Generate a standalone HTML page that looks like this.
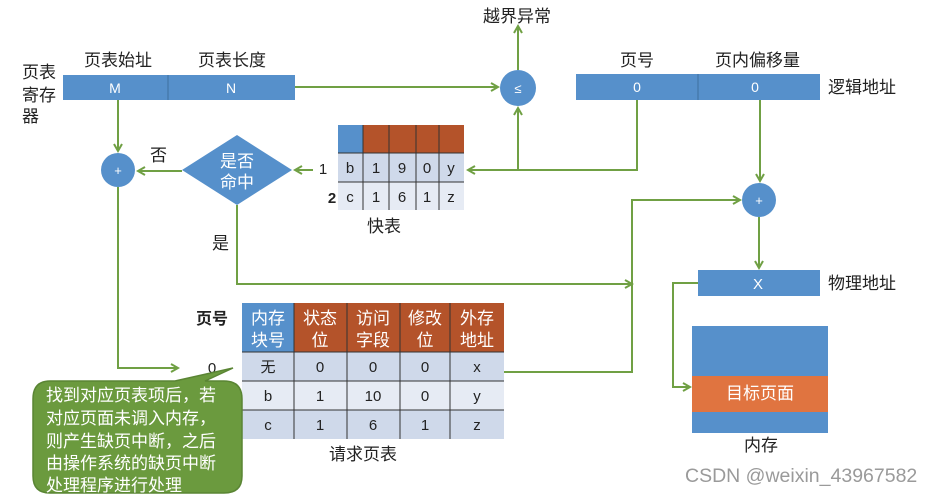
<!DOCTYPE html>
<html><head><meta charset="utf-8"><style>
html,body{margin:0;padding:0;background:#fff;}
svg{display:block;font-family:"Liberation Sans","Noto Sans CJK SC",sans-serif;}
</style></head><body>
<svg width="931" height="495" viewBox="0 0 931 495" xmlns="http://www.w3.org/2000/svg">
<defs>
<marker id="a" markerWidth="10" markerHeight="10" refX="8" refY="5" orient="auto" markerUnits="userSpaceOnUse">
<path d="M1,1 L8,5 L1,9" fill="none" stroke="#70a044" stroke-width="2"/>
</marker>
</defs>
<g fill="#222" font-size="17">
<text x="22" y="78">页表</text><text x="22" y="101">寄存</text><text x="22" y="122">器</text>
<text x="84" y="66">页表始址</text><text x="198" y="66">页表长度</text>
<text x="483" y="22">越界异常</text>
<text x="620" y="66">页号</text><text x="715" y="66">页内偏移量</text>
<text x="828" y="93">逻辑地址</text>
<text x="828" y="289">物理地址</text>
<text x="150" y="161">否</text>
<text x="212" y="249">是</text>
<text x="367" y="232">快表</text>
<text x="329" y="460">请求页表</text>
<text x="744" y="451">内存</text>
</g>
<g font-size="15" fill="#222">
<text x="323" y="174" text-anchor="middle">1</text>
<text x="332" y="203" text-anchor="middle" font-weight="bold">2</text>
<text x="212" y="324" text-anchor="middle" font-weight="bold" font-size="16">页号</text>
<text x="212" y="373" text-anchor="middle">0</text>
</g>
<rect x="63" y="75" width="232" height="25" fill="#5690cb"/>
<line x1="168" y1="75" x2="168" y2="100" stroke="#3f6f9f"/>
<g fill="#fff" font-size="14" text-anchor="middle"><text x="115" y="93">M</text><text x="231" y="93">N</text></g>
<rect x="576" y="74" width="244" height="26" fill="#5690cb"/>
<line x1="698" y1="74" x2="698" y2="100" stroke="#3f6f9f"/>
<g fill="#fff" font-size="14" text-anchor="middle"><text x="637" y="92">0</text><text x="755" y="92">0</text></g>
<rect x="698" y="270" width="122" height="26" fill="#5690cb"/>
<text x="758" y="289" fill="#fff" font-size="15" text-anchor="middle">X</text>
<rect x="692" y="326" width="136" height="107" fill="#5690cb"/>
<rect x="692" y="376" width="136" height="36" fill="#e07440"/>
<text x="760" y="399" fill="#fff" font-size="17" text-anchor="middle">目标页面</text>
<circle cx="518" cy="88" r="18" fill="#5690cb"/><text x="518" y="93" fill="#fff" font-size="13" text-anchor="middle">≤</text>
<circle cx="118" cy="170" r="17" fill="#5690cb"/><text x="118" y="175" fill="#fff" font-size="13" text-anchor="middle">+</text>
<circle cx="759" cy="200" r="17" fill="#5690cb"/><text x="759" y="205" fill="#fff" font-size="13" text-anchor="middle">+</text>
<polygon points="182,170 237,135 292,170 237,205" fill="#5690cb"/>
<g fill="#fff" font-size="17" text-anchor="middle"><text x="237" y="167">是否</text><text x="237" y="188">命中</text></g>
<rect x="338" y="125" width="25" height="28" fill="#5690cb"/>
<rect x="363" y="125" width="101" height="28" fill="#b4532a"/>
<rect x="338" y="153" width="126" height="29" fill="#cfd9ea"/>
<rect x="338" y="182" width="126" height="28" fill="#e6ebf4"/>
<g stroke="#333" stroke-width="1">
<line x1="338" y1="153" x2="464" y2="153"/><line x1="338" y1="182" x2="464" y2="182"/>
<line x1="363" y1="125" x2="363" y2="210"/><line x1="389" y1="125" x2="389" y2="210"/>
<line x1="416" y1="125" x2="416" y2="210"/><line x1="439" y1="125" x2="439" y2="210"/>
</g>
<g font-size="15" fill="#222" text-anchor="middle">
<text x="350" y="173">b</text><text x="376" y="173">1</text><text x="402" y="173">9</text><text x="427" y="173">0</text><text x="451" y="173">y</text>
<text x="350" y="202">c</text><text x="376" y="202">1</text><text x="402" y="202">6</text><text x="427" y="202">1</text><text x="451" y="202">z</text>
</g>
<rect x="242" y="303" width="52" height="49" fill="#5690cb"/>
<rect x="294" y="303" width="210" height="49" fill="#b4532a"/>
<rect x="242" y="352" width="262" height="29" fill="#cfd9ea"/>
<rect x="242" y="381" width="262" height="29" fill="#e6ebf4"/>
<rect x="242" y="410" width="262" height="29" fill="#cfd9ea"/>
<g stroke="#333" stroke-width="1">
<line x1="242" y1="352" x2="504" y2="352"/><line x1="242" y1="381" x2="504" y2="381"/><line x1="242" y1="410" x2="504" y2="410"/>
<line x1="294" y1="303" x2="294" y2="439"/><line x1="347" y1="303" x2="347" y2="439"/>
<line x1="400" y1="303" x2="400" y2="439"/><line x1="450" y1="303" x2="450" y2="439"/>
</g>
<g font-size="17" fill="#fff" text-anchor="middle">
<text x="268" y="324">内存</text><text x="268" y="346">块号</text>
<text x="320" y="324">状态</text><text x="320" y="346">位</text>
<text x="373" y="324">访问</text><text x="373" y="346">字段</text>
<text x="425" y="324">修改</text><text x="425" y="346">位</text>
<text x="477" y="324">外存</text><text x="477" y="346">地址</text>
</g>
<g font-size="15" fill="#222" text-anchor="middle">
<text x="268" y="372">无</text><text x="320" y="372">0</text><text x="373" y="372">0</text><text x="425" y="372">0</text><text x="477" y="372">x</text>
<text x="268" y="401">b</text><text x="320" y="401">1</text><text x="373" y="401">10</text><text x="425" y="401">0</text><text x="477" y="401">y</text>
<text x="268" y="430">c</text><text x="320" y="430">1</text><text x="373" y="430">6</text><text x="425" y="430">1</text><text x="477" y="430">z</text>
</g>
<g stroke="#70a044" stroke-width="2" fill="none">
<path d="M295,87 H498" marker-end="url(#a)"/>
<path d="M518,70 V26" marker-end="url(#a)"/>
<path d="M637,100 V170 H468" marker-end="url(#a)"/>
<path d="M518,170 V108" marker-end="url(#a)"/>
<path d="M313,170 H295" marker-end="url(#a)"/>
<path d="M182,171 H138" marker-end="url(#a)"/>
<path d="M118,100 V151" marker-end="url(#a)"/>
<path d="M118,187 V368 H178" marker-end="url(#a)"/>
<path d="M237,205 V284 H632" marker-end="url(#a)"/>
<path d="M504,372 H632 V200 H740" marker-end="url(#a)"/>
<path d="M760,100 V181" marker-end="url(#a)"/>
<path d="M759,217 V268" marker-end="url(#a)"/>
<path d="M698,283 H673 V387 H690" marker-end="url(#a)"/>
</g>
<path d="M50,381 H175 L233,368 L205,381 H224 Q242,381 242,399 V476 Q242,493 224,493 H50 Q33,493 33,476 V399 Q33,381 50,381 Z" fill="#6b9a3e" stroke="#5a8534" stroke-width="1.5"/>
<g fill="#fff" font-size="17">
<text x="46" y="401">找到对应页表项后，若</text>
<text x="46" y="424">对应页面未调入内存，</text>
<text x="46" y="447">则产生缺页中断，之后</text>
<text x="46" y="469">由操作系统的缺页中断</text>
<text x="46" y="491">处理程序进行处理</text>
</g>
<text x="685" y="482" fill="#9a9a9a" font-size="19.5">CSDN @weixin_43967582</text>
</svg>
</body></html>
